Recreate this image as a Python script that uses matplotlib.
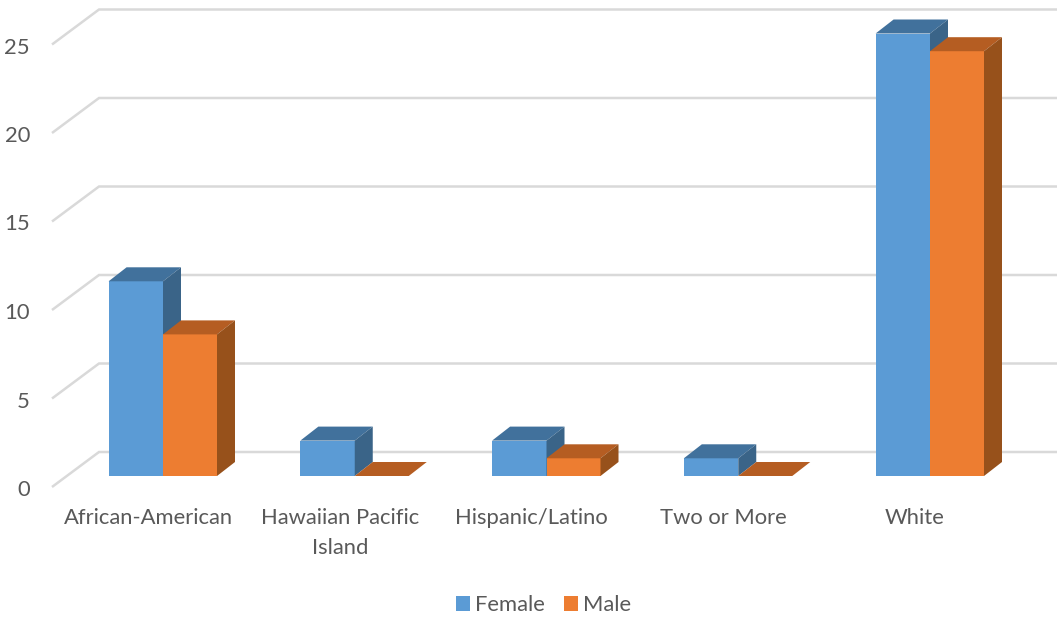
import matplotlib
matplotlib.use("Agg")
import matplotlib.pyplot as plt
from matplotlib.patches import Polygon, Patch

categories = ["African-American", "Hawaiian Pacific\nIsland", "Hispanic/Latino", "Two or More", "White"]
female = [11, 2, 2, 1, 25]
male = [8, 0, 1, 0, 24]
y_ticks = [0, 5, 10, 15, 20, 25]

W, H = 1057, 618
fig = plt.figure(figsize=(W / 100, H / 100), dpi=100, facecolor="white")
ax = fig.add_axes([0, 0, 1, 1])
ax.axis("off")

# pixel calibration of the scales
PX_X = 191.75     # px per category
PX_Y = 17.7       # px per value unit
X0, Y0 = 163.0, 476.0  # position of category 0 / value 0 on bar front plane
ax.set_xlim(-X0 / PX_X, (W - X0) / PX_X)
ax.set_ylim(-(H - Y0) / PX_Y, Y0 / PX_Y)
dx = lambda px: px / PX_X
dy = lambda px: px / PX_Y

bar_w = dx(54.4)
male_w = dx(54.0)
depth_x, depth_y = dx(18), dy(14)
wall_front_x, wall_back_x = dx(52 - X0), dx(99 - X0)
wall_right = dx(W - X0)
wall_front_off, wall_back_off = dy(-11), dy(24)

grid_c = "#d9d9d9"
text_c = "#595959"
font = "Lato"
fs = 15.8

for v in y_ticks:
    ax.plot([wall_front_x, wall_back_x, wall_right],
            [v + wall_front_off, v + wall_back_off, v + wall_back_off],
            color=grid_c, lw=1.8, solid_joinstyle="miter", solid_capstyle="butt", zorder=1)
    ax.text(dx(30 - X0), v + dy(-14), str(v), ha="right", va="center",
            color=text_c, fontsize=fs, family=font)

series = [(female, -bar_w, bar_w, "#5b9bd5", "#41719c", "#3a6488"),
          (male, 0, male_w, "#ed7d31", "#b55d22", "#97511b")]
for i, _ in enumerate(categories):
    for vals, offset, width, c_front, c_top, c_side in series:
        v = vals[i]
        x0 = i + offset
        x1 = x0 + width
        ax.bar(x0, v, width=width, bottom=0, align="edge", color=c_front, lw=0, zorder=3)
        ax.add_patch(Polygon([(x0, v), (x0 + depth_x, v + depth_y),
                              (x1 + depth_x, v + depth_y), (x1, v)],
                             closed=True, fc=c_top, ec="none", zorder=3))
        ax.add_patch(Polygon([(x1, 0), (x1 + depth_x, depth_y),
                              (x1 + depth_x, v + depth_y), (x1, v)],
                             closed=True, fc=c_side, ec="none", zorder=3))

# each label's first line sits at the same height; line spacing pushes "Island" down
for i, name in enumerate(categories):
    ax.text(i + dx(-15), dy(-32.5), name, ha="center", va="top", ma="center",
            color=text_c, fontsize=fs, family=font, linespacing=1.6)

handles = [Patch(fc="#5b9bd5", ec="none", label="Female"),
           Patch(fc="#ed7d31", ec="none", label="Male")]
ax.legend(handles=handles, loc="center", bbox_to_anchor=(543.5 / W, 1 - 605 / H),
          ncol=2, frameon=False, handlelength=0.64, handleheight=0.64,
          handletextpad=0.22, columnspacing=0.9, labelcolor=text_c,
          prop={"family": font, "size": fs})

fig.savefig("out.png", dpi=100)
